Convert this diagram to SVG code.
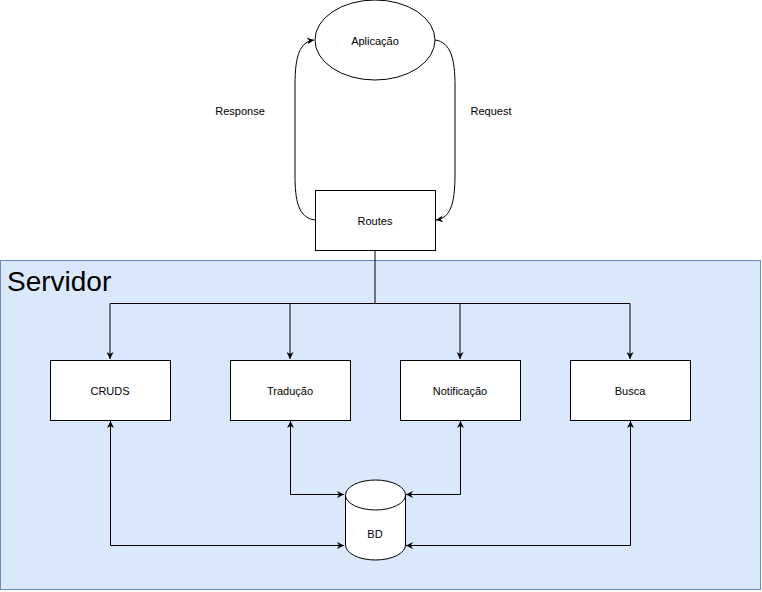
<svg xmlns="http://www.w3.org/2000/svg" width="762" height="592" viewBox="0 0 762 592">
<style>
.n{fill:#fff;stroke:#000;stroke-width:1}
.t{font-family:"Liberation Sans",Arial,sans-serif;font-size:11px;fill:#000;text-anchor:middle;dominant-baseline:central}
.e{fill:none;stroke:#000;stroke-width:1}
</style>
<defs>
<marker id="a" viewBox="0 0 10 10" refX="10" refY="5" markerWidth="7" markerHeight="7" orient="auto" markerUnits="userSpaceOnUse">
<path d="M0,0 L10,5 L0,10 L3,5 Z" fill="#000"/>
</marker>
<marker id="s" viewBox="0 0 10 10" refX="0" refY="5" markerWidth="7" markerHeight="7" orient="auto" markerUnits="userSpaceOnUse">
<path d="M10,0 L0,5 L10,10 L7,5 Z" fill="#000"/>
</marker>
</defs>
<g id="servidor">
<rect x="0.5" y="260.5" width="760" height="329" fill="#dae8fc" stroke="#6c8ebf"/>
<text x="7" y="281" font-family="'Liberation Sans',Arial,sans-serif" font-size="28" dominant-baseline="central">Servidor</text>
</g>
<g id="connectors">
<path class="e" d="M315,220 C298,218 295,200 295,175 L295,85 C295,55 300,42 314,40" marker-end="url(#a)"/>
<path class="e" d="M435,40 C451,42 455,60 455,85 L455,175 C455,205 450,218 436,220" marker-end="url(#a)"/>
<path class="e" d="M375,250 V303.5 H110 V359" marker-end="url(#a)"/>
<path class="e" d="M290,303.5 V359" marker-end="url(#a)"/>
<path class="e" d="M375,303.5 H460 V359" marker-end="url(#a)"/>
<path class="e" d="M460,303.5 H630 V359" marker-end="url(#a)"/>
<path class="e" d="M290.5,421 V494.5 H344" marker-start="url(#s)" marker-end="url(#a)"/>
<path class="e" d="M460.5,421 V494.5 H406" marker-start="url(#s)" marker-end="url(#a)"/>
<path class="e" d="M110.5,421 V545.5 H344" marker-start="url(#s)" marker-end="url(#a)"/>
<path class="e" d="M630.5,421 V545.5 H406" marker-start="url(#s)" marker-end="url(#a)"/>
</g>
<g id="lbl-response"><text class="t" x="240" y="111">Response</text></g>
<g id="lbl-request"><text class="t" x="491" y="111">Request</text></g>
<g id="aplicacao">
<ellipse class="n" cx="375" cy="40" rx="60" ry="40"/>
<text class="t" x="375" y="41">Aplicação</text>
</g>
<g id="routes">
<rect class="n" x="315.5" y="190.5" width="120" height="60"/>
<text class="t" x="375" y="221">Routes</text>
</g>
<g id="cruds">
<rect class="n" x="50.5" y="360.5" width="120" height="60"/>
<text class="t" x="110" y="391">CRUDS</text>
</g>
<g id="traducao">
<rect class="n" x="230.5" y="360.5" width="120" height="60"/>
<text class="t" x="290" y="391">Tradução</text>
</g>
<g id="notificacao">
<rect class="n" x="400.5" y="360.5" width="120" height="60"/>
<text class="t" x="460" y="391">Notificação</text>
</g>
<g id="busca">
<rect class="n" x="570.5" y="360.5" width="120" height="60"/>
<text class="t" x="630" y="391">Busca</text>
</g>
<g id="bd">
<path class="n" d="M345.5,495 A30,15 0 0 1 405.5,495 V545 A30,15 0 0 1 345.5,545 Z"/>
<path class="e" d="M345.5,495 A30,15 0 0 0 405.5,495"/>
<text class="t" x="375" y="534">BD</text>
</g>
</svg>
